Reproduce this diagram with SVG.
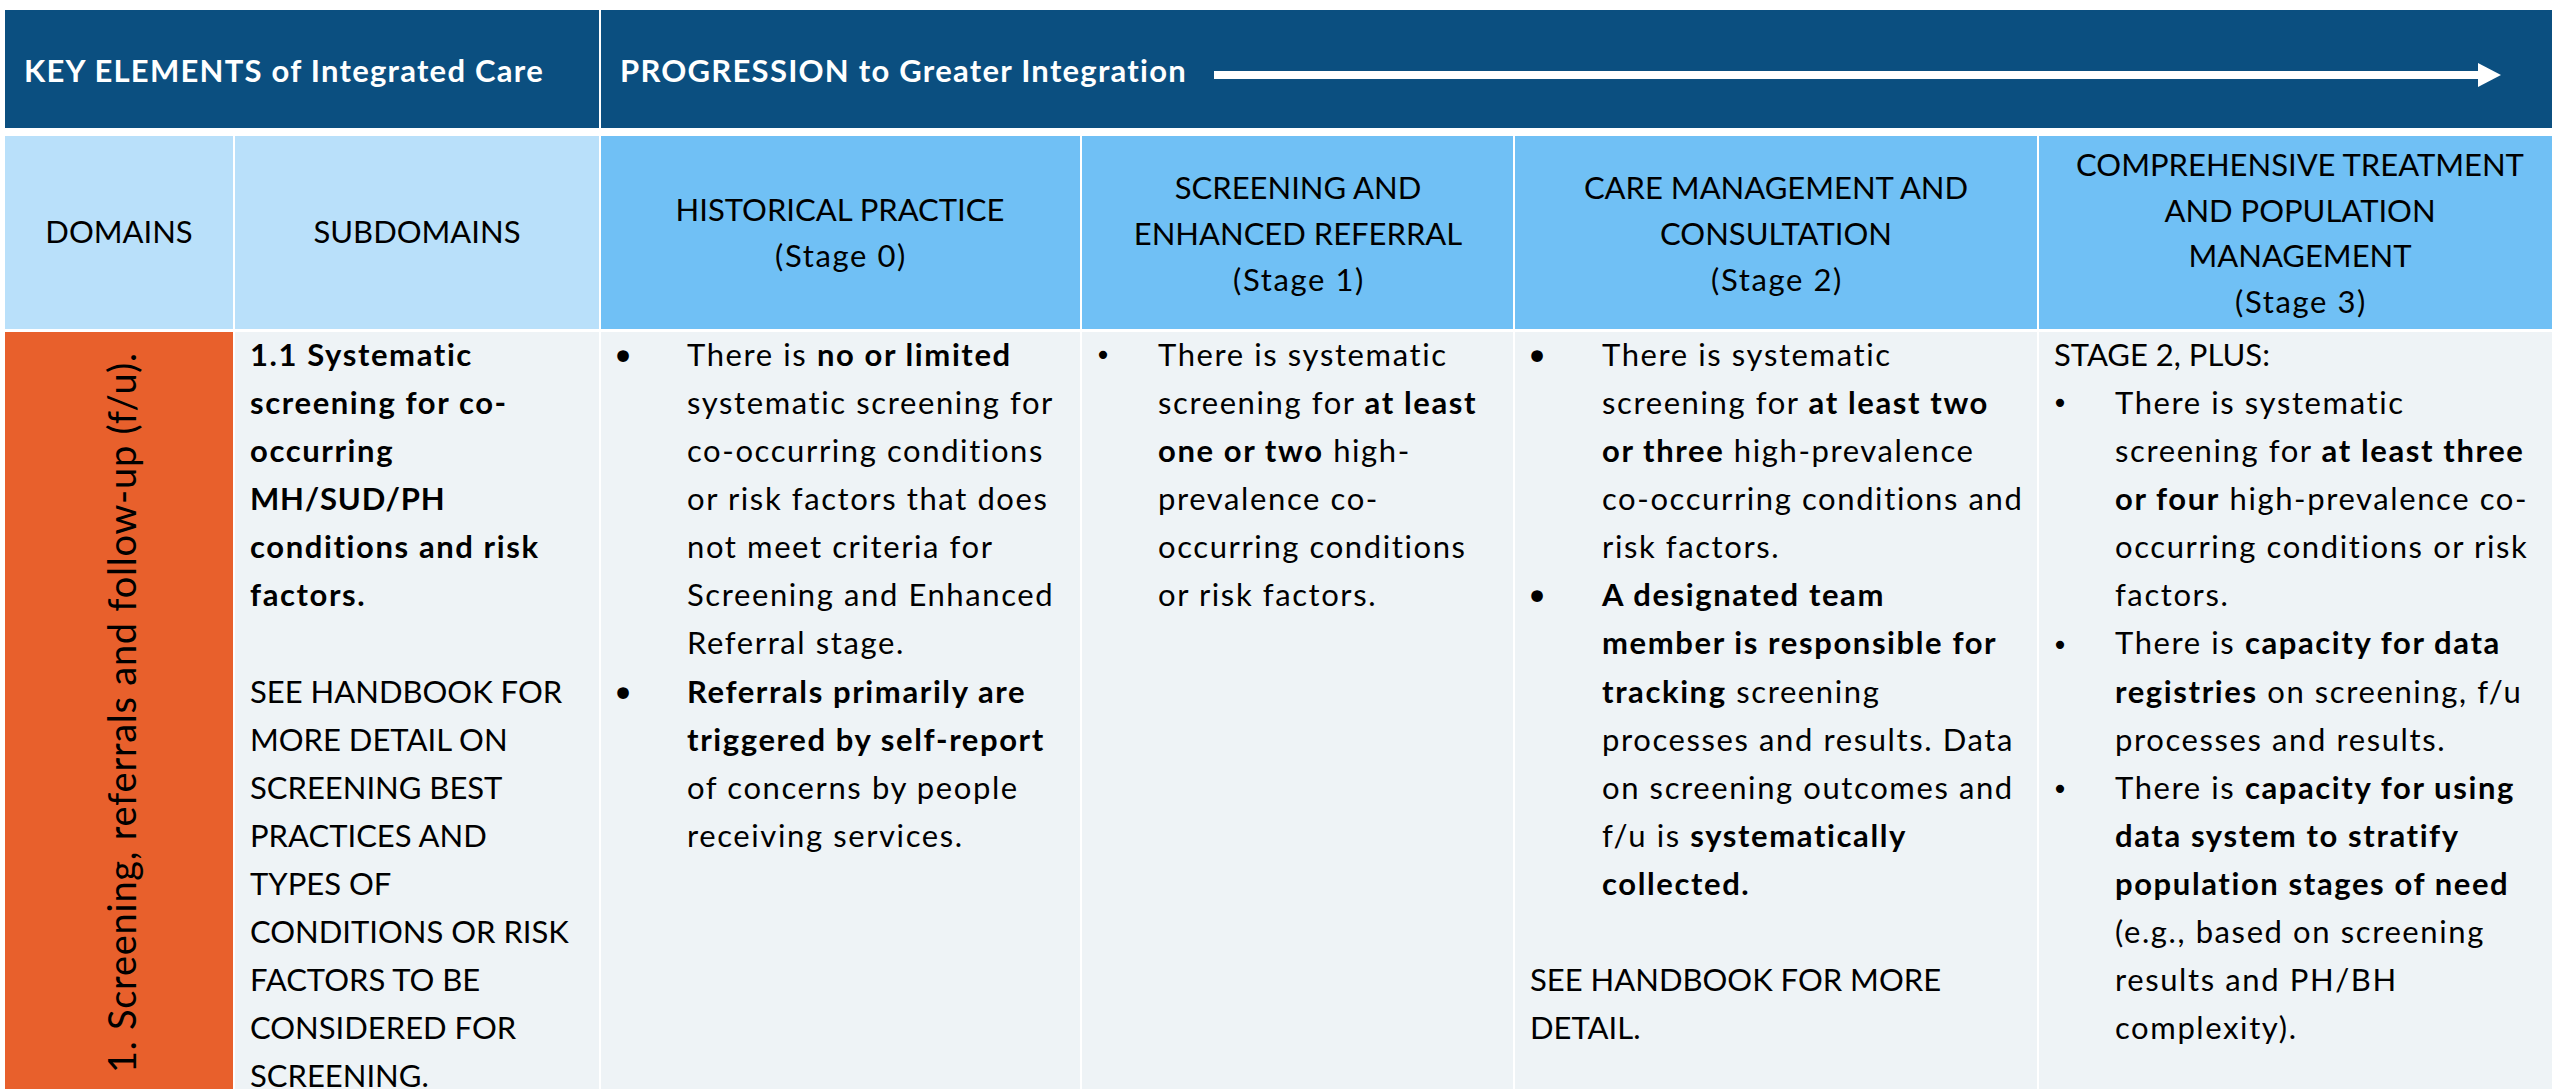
<svg xmlns="http://www.w3.org/2000/svg" width="2552" height="1089" viewBox="0 0 2552 1089">
<defs>
<style>
.t{font-family:Lato,"Liberation Sans",sans-serif;font-size:31px;fill:#000;letter-spacing:1.6px}
.k{letter-spacing:0}
.b{font-weight:bold}
.c{text-anchor:middle}
.rot{font-family:Lato,"Liberation Sans",sans-serif;font-size:38px;fill:#000;text-anchor:middle}
.hd{font-family:Lato,"Liberation Sans",sans-serif;font-size:31px;font-weight:bold;fill:#fff;letter-spacing:1.25px}
.bl{font-family:"DejaVu Sans",sans-serif;fill:#000;text-anchor:middle;letter-spacing:0}
.band{fill:#0B4F80}
.sub{fill:#B9E0FA}
.stage{fill:#70C0F5}
.body{fill:#EEF3F6}
.dom{fill:#E8602C}
</style>
<marker id="ah" viewBox="0 0 23 24" refX="0" refY="12" markerWidth="23" markerHeight="24" markerUnits="userSpaceOnUse" orient="auto">
<path d="M0,0 L23,12 L0,24 z" fill="#fff"/>
</marker>
</defs>
<rect width="2552" height="1089" fill="#fff"/>

<g id="hdr-key">
<rect class="band" x="5" y="10" width="594" height="118"/>
<text class="hd" x="24" y="82">KEY ELEMENTS of Integrated Care</text>
</g>
<g id="hdr-progression">
<rect class="band" x="601" y="10" width="1951" height="118"/>
<text class="hd" x="620" y="82">PROGRESSION to Greater Integration</text>
</g>

<g id="connectors">
<line x1="1214" y1="75" x2="2478" y2="75" stroke="#fff" stroke-width="8" marker-end="url(#ah)"/>
</g>

<g id="col-domains">
<rect class="sub" x="5" y="136" width="228" height="193"/>
<text class="t k c" x="119" y="243">DOMAINS</text>
</g>
<g id="col-subdomains">
<rect class="sub" x="235" y="136" width="364" height="193"/>
<text class="t k c" x="417" y="243">SUBDOMAINS</text>
</g>
<g id="col-stage0">
<rect class="stage" x="601" y="136" width="479" height="193"/>
<text class="t k c" x="840" y="221">HISTORICAL PRACTICE</text>
<text class="t c" x="841" y="267">(Stage 0)</text>
</g>
<g id="col-stage1">
<rect class="stage" x="1082" y="136" width="431" height="193"/>
<text class="t k c" x="1298" y="199">SCREENING AND</text>
<text class="t k c" x="1298" y="245">ENHANCED REFERRAL</text>
<text class="t c" x="1299" y="291">(Stage 1)</text>
</g>
<g id="col-stage2">
<rect class="stage" x="1515" y="136" width="522" height="193"/>
<text class="t k c" x="1776" y="199">CARE MANAGEMENT AND</text>
<text class="t k c" x="1776" y="245">CONSULTATION</text>
<text class="t c" x="1777" y="291">(Stage 2)</text>
</g>
<g id="col-stage3">
<rect class="stage" x="2039" y="136" width="513" height="193"/>
<text class="t k c" x="2300" y="176">COMPREHENSIVE TREATMENT</text>
<text class="t k c" x="2300" y="222">AND POPULATION</text>
<text class="t k c" x="2300" y="267">MANAGEMENT</text>
<text class="t c" x="2301" y="313">(Stage 3)</text>
</g>

<g id="domain-1">
<rect class="dom" x="5" y="332" width="228" height="757"/>
<text class="rot" textLength="720" lengthAdjust="spacing" transform="translate(136,713) rotate(-90)">1. Screening, referrals and follow-up (f/u).</text>
</g>

<g id="subdomain-1-1">
<rect class="body" x="235" y="332" width="364" height="757"/>
<text class="t b" x="250" y="366">1.1 Systematic</text>
<text class="t b" x="250" y="414">screening for co-</text>
<text class="t b" x="250" y="462">occurring</text>
<text class="t b" x="250" y="510" style="letter-spacing:0.8px">MH/SUD/PH</text>
<text class="t b" x="250" y="558">conditions and risk</text>
<text class="t b" x="250" y="606">factors.</text>
<text class="t k" x="250" y="703">SEE HANDBOOK FOR</text>
<text class="t k" x="250" y="751">MORE DETAIL ON</text>
<text class="t k" x="250" y="799">SCREENING BEST</text>
<text class="t k" x="250" y="847">PRACTICES AND</text>
<text class="t k" x="250" y="895">TYPES OF</text>
<text class="t k" x="250" y="943">CONDITIONS OR RISK</text>
<text class="t k" x="250" y="991">FACTORS TO BE</text>
<text class="t k" x="250" y="1039">CONSIDERED FOR</text>
<text class="t k" x="250" y="1087">SCREENING.</text>
</g>

<g id="cell-stage0">
<rect class="body" x="601" y="332" width="479" height="757"/>
<text class="bl" x="623" y="371" font-size="40">•</text>
<text class="t" x="687" y="366">There is <tspan class="b">no or limited</tspan></text>
<text class="t" x="687" y="414">systematic screening for</text>
<text class="t" x="687" y="462">co-occurring conditions</text>
<text class="t" x="687" y="510">or risk factors that does</text>
<text class="t" x="687" y="558">not meet criteria for</text>
<text class="t" x="687" y="606">Screening and Enhanced</text>
<text class="t" x="687" y="654">Referral stage.</text>
<text class="bl" x="623" y="708" font-size="40">•</text>
<text class="t b" x="687" y="703">Referrals primarily are</text>
<text class="t b" x="687" y="751">triggered by self-report</text>
<text class="t" x="687" y="799">of concerns by people</text>
<text class="t" x="687" y="847">receiving services.</text>
</g>

<g id="cell-stage1">
<rect class="body" x="1082" y="332" width="431" height="757"/>
<text class="bl" x="1103" y="365" font-size="28">•</text>
<text class="t" x="1158" y="366">There is systematic</text>
<text class="t" x="1158" y="414">screening for <tspan class="b">at least</tspan></text>
<text class="t" x="1158" y="462"><tspan class="b">one or two</tspan> high-</text>
<text class="t" x="1158" y="510">prevalence co-</text>
<text class="t" x="1158" y="558">occurring conditions</text>
<text class="t" x="1158" y="606">or risk factors.</text>
</g>

<g id="cell-stage2">
<rect class="body" x="1515" y="332" width="522" height="757"/>
<text class="bl" x="1537" y="371" font-size="40">•</text>
<text class="t" x="1602" y="366">There is systematic</text>
<text class="t" x="1602" y="414">screening for <tspan class="b">at least two</tspan></text>
<text class="t" x="1602" y="462"><tspan class="b">or three</tspan> high-prevalence</text>
<text class="t" x="1602" y="510">co-occurring conditions and</text>
<text class="t" x="1602" y="558">risk factors.</text>
<text class="bl" x="1537" y="611" font-size="40">•</text>
<text class="t b" x="1602" y="606">A designated team</text>
<text class="t b" x="1602" y="654">member is responsible for</text>
<text class="t" x="1602" y="703"><tspan class="b">tracking</tspan> screening</text>
<text class="t" x="1602" y="751">processes and results. Data</text>
<text class="t" x="1602" y="799">on screening outcomes and</text>
<text class="t" x="1602" y="847">f/u is <tspan class="b">systematically</tspan></text>
<text class="t b" x="1602" y="895">collected.</text>
<text class="t k" x="1530" y="991">SEE HANDBOOK FOR MORE</text>
<text class="t k" x="1530" y="1039">DETAIL.</text>
</g>

<g id="cell-stage3">
<rect class="body" x="2039" y="332" width="513" height="757"/>
<text class="t k" x="2054" y="366">STAGE 2, PLUS:</text>
<text class="bl" x="2060" y="413" font-size="28">•</text>
<text class="t" x="2115" y="414">There is systematic</text>
<text class="t" x="2115" y="462">screening for <tspan class="b">at least three</tspan></text>
<text class="t" x="2115" y="510"><tspan class="b">or four</tspan> high-prevalence co-</text>
<text class="t" x="2115" y="558">occurring conditions or risk</text>
<text class="t" x="2115" y="606">factors.</text>
<text class="bl" x="2060" y="655" font-size="28">•</text>
<text class="t" x="2115" y="654">There is <tspan class="b">capacity for data</tspan></text>
<text class="t" x="2115" y="703"><tspan class="b">registries</tspan> on screening, f/u</text>
<text class="t" x="2115" y="751">processes and results.</text>
<text class="bl" x="2060" y="799" font-size="28">•</text>
<text class="t" x="2115" y="799">There is <tspan class="b">capacity for using</tspan></text>
<text class="t b" x="2115" y="847">data system to stratify</text>
<text class="t b" x="2115" y="895">population stages of need</text>
<text class="t" x="2115" y="943">(e.g., based on screening</text>
<text class="t" x="2115" y="991">results and PH/BH</text>
<text class="t" x="2115" y="1039">complexity).</text>
</g>
</svg>
